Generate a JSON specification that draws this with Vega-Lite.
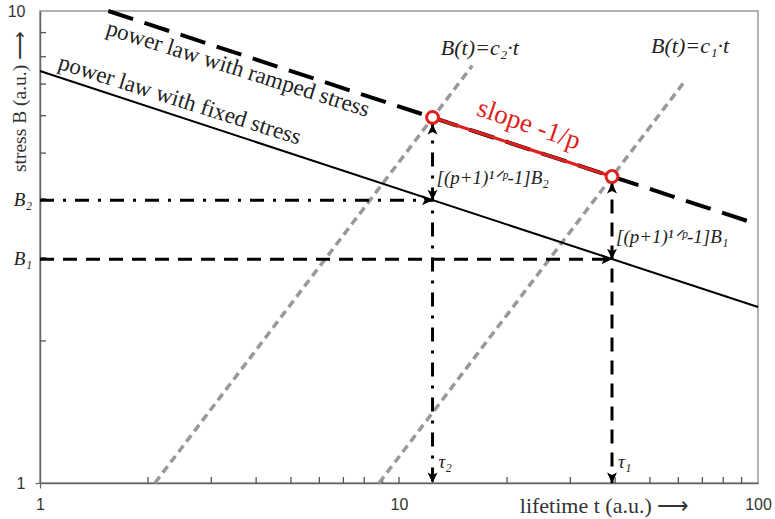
{
  "$schema": "https://vega.github.io/schema/vega-lite/v6.json",
  "width": 718,
  "height": 472,
  "autosize": "none",
  "padding": {"left": 40, "top": 11, "right": 17, "bottom": 36},
  "background": "white",
  "config": {
    "view": {"stroke": "#999", "strokeWidth": 1.5},
    "axis": {
      "domainColor": "#666", "domainWidth": 1.5, "tickWidth": 1.2, "grid": false, "zindex": 1,
      "labelFont": "Liberation Sans", "labelFontSize": 16, "labelColor": "#333",
      "titleFont": "Liberation Serif", "titleFontWeight": "normal", "titleFontSize": 22, "titleColor": "#333"
    }
  },
  "datasets": {
    "xticks": [{"t": 2, "B": 1}, {"t": 3, "B": 1}, {"t": 4, "B": 1}, {"t": 5, "B": 1}, {"t": 6, "B": 1}, {"t": 7, "B": 1}, {"t": 8, "B": 1}, {"t": 9, "B": 1}, {"t": 10, "B": 1}, {"t": 20, "B": 1}, {"t": 30, "B": 1}, {"t": 40, "B": 1}, {"t": 50, "B": 1}, {"t": 60, "B": 1}, {"t": 70, "B": 1}, {"t": 80, "B": 1}, {"t": 90, "B": 1}],
    "yticks": [{"t": 1, "B": 2}, {"t": 1, "B": 3}, {"t": 1, "B": 4}, {"t": 1, "B": 5}, {"t": 1, "B": 6}, {"t": 1, "B": 7}, {"t": 1, "B": 8}, {"t": 1, "B": 9}],
    "fixed": [{"t": 1, "B": 7.46}, {"t": 100, "B": 2.36}],
    "ramped": [{"t": 1.55, "B": 10}, {"t": 100, "B": 3.53}],
    "slope": [{"t": 12.4, "B": 5.95}, {"t": 39.2, "B": 4.46}],
    "c2": [{"t": 2.09, "B": 1}, {"t": 16, "B": 7.66}],
    "c1": [{"t": 8.8, "B": 1}, {"t": 62.6, "B": 7.11}],
    "b2h": [{"t": 1, "B": 3.97}, {"t": 12.4, "B": 3.97}],
    "b1h": [{"t": 1, "B": 2.98}, {"t": 39.2, "B": 2.98}],
    "tau2v": [{"t": 12.4, "B": 5.95}, {"t": 12.4, "B": 1}],
    "tau1v": [{"t": 39.2, "B": 4.46}, {"t": 39.2, "B": 1}],
    "circles": [{"t": 12.4, "B": 5.95}, {"t": 39.2, "B": 4.46}],
    "arrows": [
      {"t": 12.4, "B": 3.97, "kind": "down"}, {"t": 12.4, "B": 3.97, "kind": "right"},
      {"t": 12.4, "B": 5.95, "kind": "up"}, {"t": 12.4, "B": 1, "kind": "down"},
      {"t": 39.2, "B": 2.98, "kind": "down"}, {"t": 39.2, "B": 2.98, "kind": "right"},
      {"t": 39.2, "B": 4.46, "kind": "up"}, {"t": 39.2, "B": 1, "kind": "down"}
    ],
    "lineLabels": [
      {"t": 3.56, "B": 7.54, "label": "power law with ramped stress"},
      {"t": 2.45, "B": 6.48, "label": "power law with fixed stress"}
    ],
    "slopeLabel": [{"t": 23, "B": 5.74, "label": "slope -1/p"}],
    "cLabels": [
      {"t": 16.8, "B": 8.35, "label": "B(t)=c₂·t"},
      {"t": 64.7, "B": 8.43, "label": "B(t)=c₁·t"}
    ],
    "bracketLabels": [
      {"t": 12.4, "B": 3.97, "label": "[(p+1)¹ᐟᵖ-1]B₂"},
      {"t": 39.2, "B": 2.98, "label": "[(p+1)¹ᐟᵖ-1]B₁"}
    ],
    "tauLabels": [
      {"t": 12.4, "B": 1, "label": "τ₂"},
      {"t": 39.2, "B": 1, "label": "τ₁"}
    ],
    "bLabels": [
      {"t": 1, "B": 3.97, "label": "B₂"},
      {"t": 1, "B": 2.98, "label": "B₁"}
    ]
  },
  "encoding": {
    "x": {
      "field": "t", "type": "quantitative",
      "scale": {"type": "log", "domain": [1, 100], "nice": false},
      "axis": {
        "title": "lifetime t (a.u.) ⟶",
        "values": [1, 10, 100],
        "format": "d",
        "labelOverlap": false, "labelFlush": false,
        "tickSize": 5, "labelPadding": 8,
        "tickColor": {"condition": {"test": "datum.value == 1", "value": "#666"}, "value": "transparent"},
        "titleX": 564, "titleY": 22, "titleAlign": "center", "titleBaseline": "middle"
      }
    },
    "y": {
      "field": "B", "type": "quantitative",
      "scale": {"type": "log", "domain": [1, 10], "nice": false},
      "axis": {
        "title": "stress B (a.u.) ⟶",
        "titleFontSize": 19.5,
        "values": [1, 10],
        "format": "d",
        "labelOverlap": false, "labelFlush": false,
        "tickSize": 5, "labelPadding": 10,
        "tickColor": {"condition": {"test": "datum.value == 1", "value": "#666"}, "value": "transparent"},
        "titleX": -21, "titleY": 90, "titleAlign": "center", "titleBaseline": "middle", "titleAngle": -90
      }
    }
  },
  "layer": [
    {"data": {"name": "xticks"}, "mark": {"type": "tick", "orient": "vertical", "color": "#555", "size": 6, "thickness": 1.3, "yOffset": -3, "opacity": 1}},
    {"data": {"name": "yticks"}, "mark": {"type": "tick", "orient": "horizontal", "color": "#555", "size": 6, "thickness": 1.3, "xOffset": 3, "opacity": 1}},
    {"data": {"name": "c2"}, "mark": {"type": "line", "color": "#999", "strokeWidth": 3.5, "strokeDash": [8, 5]}},
    {"data": {"name": "c1"}, "mark": {"type": "line", "color": "#999", "strokeWidth": 3.5, "strokeDash": [8, 5]}},
    {"data": {"name": "b2h"}, "mark": {"type": "line", "color": "black", "strokeWidth": 3, "strokeDash": [14, 9, 3, 9]}},
    {"data": {"name": "b1h"}, "mark": {"type": "line", "color": "black", "strokeWidth": 3, "strokeDash": [14, 9]}},
    {"data": {"name": "tau2v"}, "mark": {"type": "line", "color": "black", "strokeWidth": 3, "strokeDash": [14, 9, 3, 9]}},
    {"data": {"name": "tau1v"}, "mark": {"type": "line", "color": "black", "strokeWidth": 3, "strokeDash": [14, 9]}},
    {"data": {"name": "fixed"}, "mark": {"type": "line", "color": "black", "strokeWidth": 2}},
    {"data": {"name": "ramped"}, "mark": {"type": "line", "color": "black", "strokeWidth": 4, "strokeDash": [26, 12]}},
    {"data": {"name": "slope"}, "mark": {"type": "line", "color": "#e0201c", "strokeWidth": 3.2}},
    {"data": {"name": "circles"}, "mark": {"type": "point", "shape": "circle", "filled": true, "fill": "white", "stroke": "#e0201c", "strokeWidth": 3, "size": 140, "opacity": 1}},
    {
      "data": {"name": "arrows"},
      "mark": {"type": "point", "filled": true, "color": "black", "size": 100, "opacity": 1},
      "encoding": {
        "shape": {
          "field": "kind", "type": "nominal", "legend": null,
          "scale": {
            "domain": ["down", "up", "right"],
            "range": ["M0,0L-1,-2.1L0,-1.6L1,-2.1Z", "M0,1.3L-1,3.4L0,2.9L1,3.4Z", "M0,0L-2.1,-1L-1.6,0L-2.1,1Z"]
          }
        }
      }
    },
    {
      "data": {"name": "lineLabels"},
      "mark": {"type": "text", "font": "Liberation Serif", "fontSize": 23, "angle": 17.5, "color": "#222", "align": "center", "baseline": "middle"},
      "encoding": {"text": {"field": "label"}}
    },
    {
      "data": {"name": "slopeLabel"},
      "mark": {"type": "text", "font": "Liberation Serif", "fontSize": 27, "angle": 19, "color": "#e0201c", "align": "center", "baseline": "middle"},
      "encoding": {"text": {"field": "label"}}
    },
    {
      "data": {"name": "cLabels"},
      "mark": {"type": "text", "font": "Liberation Serif", "fontStyle": "italic", "fontSize": 22, "color": "#222", "align": "center", "baseline": "middle"},
      "encoding": {"text": {"field": "label"}}
    },
    {
      "data": {"name": "bracketLabels"},
      "mark": {"type": "text", "font": "Liberation Serif", "fontStyle": "italic", "fontSize": 19, "color": "#222", "align": "left", "baseline": "middle", "dx": 4, "dy": -22},
      "encoding": {"text": {"field": "label"}}
    },
    {
      "data": {"name": "tauLabels"},
      "mark": {"type": "text", "font": "Liberation Serif", "fontStyle": "italic", "fontSize": 19, "color": "#222", "align": "left", "baseline": "middle", "dx": 6, "dy": -21},
      "encoding": {"text": {"field": "label"}}
    },
    {
      "data": {"name": "bLabels"},
      "mark": {"type": "text", "font": "Liberation Serif", "fontStyle": "italic", "fontSize": 19, "color": "#222", "align": "right", "baseline": "middle", "dx": -8},
      "encoding": {"text": {"field": "label"}}
    }
  ]
}
